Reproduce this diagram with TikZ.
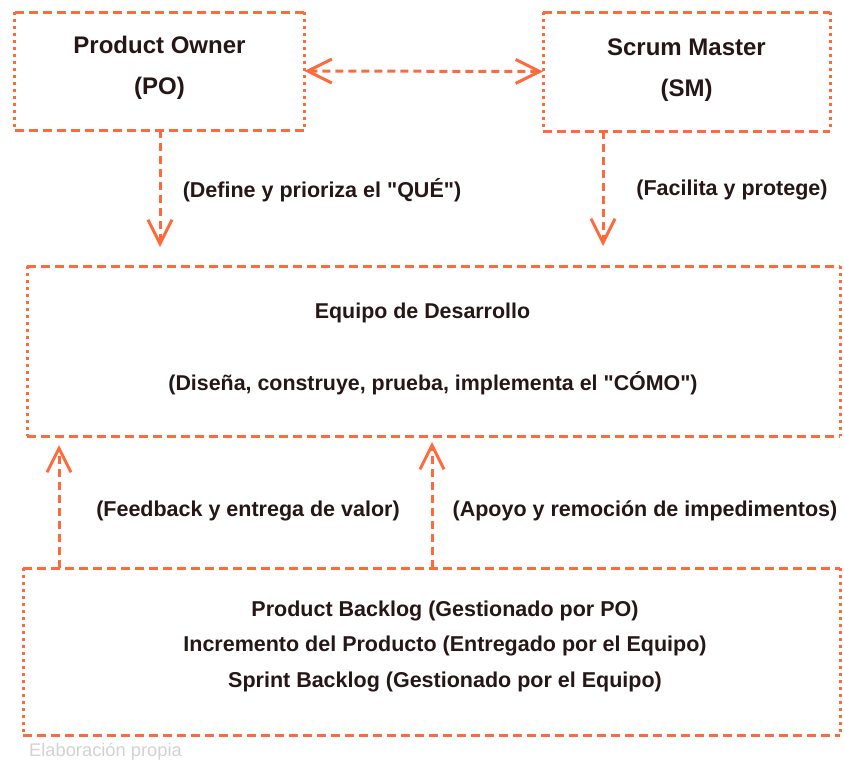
\documentclass[tikz,border=0pt]{standalone}
\usepackage{fontspec}
\setmainfont{Liberation Sans}
\usetikzlibrary{arrows.meta}
\definecolor{scrumorange}{RGB}{255,106,60}
\definecolor{inkdark}{RGB}{38,22,22}
\definecolor{notegray}{RGB}{210,210,210}
\newcommand{\sq}{\textquotedbl}
\tikzset{
  hedge/.style={draw=scrumorange,line width=3pt,dash pattern=on 9pt off 5pt},
  vedge/.style={draw=scrumorange,line width=3pt,dash pattern=on 3pt off 4pt},
  flow/.style={draw=scrumorange,line width=3pt,dash pattern=on 8pt off 5pt,
    -{Straight Barb[length=24pt,width=24pt,line width=3pt]}},
  bothflow/.style={flow,{Straight Barb[length=24pt,width=24pt,line width=3pt]}-{Straight Barb[length=24pt,width=24pt,line width=3pt]}},
  frame/.style={inner sep=0pt,outer sep=0pt},
  roletext/.style={text=inkdark,font=\fontsize{24}{41}\selectfont\bfseries,align=center},
  bodytext/.style={text=inkdark,font=\fontsize{21.4}{36}\selectfont\bfseries,align=center},
  labeltext/.style={text=inkdark,font=\fontsize{21.5}{24}\selectfont\bfseries},
}
\newcommand{\dashframe}[1]{%
  \draw[hedge] (#1.north west) -- (#1.north east);
  \draw[hedge] (#1.south west) -- (#1.south east);
  \draw[vedge] (#1.north west) -- (#1.south west);
  \draw[vedge] (#1.north east) -- (#1.south east);
}
\begin{document}
\begin{tikzpicture}[x=1pt,y=-1pt]
\useasboundingbox (0,0) rectangle (844,763);

% boxes
\node[frame,minimum width=290pt,minimum height=118pt] (po) at (159.5,71) {};
\node[frame,minimum width=287pt,minimum height=119pt] (sm) at (686.5,71.5) {};
\node[frame,minimum width=813pt,minimum height=170pt] (dev) at (433.5,351) {};
\node[frame,minimum width=817pt,minimum height=167pt] (art) at (431.5,651.5) {};
\dashframe{po}
\dashframe{sm}
\dashframe{dev}
\dashframe{art}

% box texts
\node[roletext] (poT) at (159.5,68) {Product Owner\\(PO)};
\node[roletext] (smT) at (686.5,70) {Scrum Master\\(SM)};
\node[bodytext] (devA) at (422.5,313) {Equipo de Desarrollo};
\node[bodytext] (devB) at (433,383) {(Diseña, construye, prueba, implementa el \sq CÓMO\sq)};
\node[text=inkdark,font=\fontsize{21.5}{35.5}\selectfont\bfseries,align=center] (artT) at (445,646)
  {Product Backlog (Gestionado por PO)\\Incremento del Producto (Entregado por el Equipo)\\Sprint Backlog (Gestionado por el Equipo)};

% connector end points
\coordinate (poEnd) at (160,247);
\coordinate (smEnd) at (603,246);
\coordinate (fbStart) at (59,568);
\coordinate (fbEnd) at (59,445);
\coordinate (apStart) at (432,568);
\coordinate (apEnd) at (432,442);

% connectors
\draw[bothflow] (po.east) -- (sm.west);
\draw[flow] (po.south -| poEnd) -- (poEnd);
\draw[flow] (sm.south -| smEnd) -- (smEnd);
\draw[flow] (fbStart) -- (fbEnd);
\draw[flow] (apStart) -- (apEnd);

% connector labels
\node[labeltext] (lblDef) at (322,190) {(Define y prioriza el \sq QUÉ\sq)};
\node[labeltext] (lblFac) at (732,190) {(Facilita y protege)};
\node[labeltext] (lblFb) at (248,511) {(Feedback y entrega de valor)};
\node[labeltext] (lblAp) at (645,511) {(Apoyo y remoción de impedimentos)};

% source note
\node[text=notegray,font=\fontsize{18.3}{20}\selectfont,anchor=west,inner sep=0pt] (note) at (29,752) {Elaboración propia};
\end{tikzpicture}
\end{document}
